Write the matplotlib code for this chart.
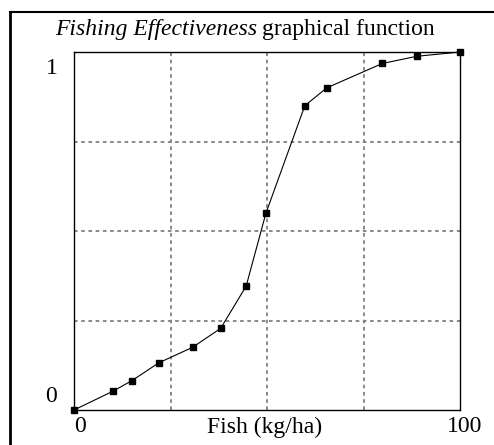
import matplotlib
matplotlib.use("Agg")
import matplotlib.pyplot as plt
from matplotlib.lines import Line2D

fish = [0, 10, 15, 22, 30.7, 38, 44.6, 49.7, 59.8, 65.5, 79.9, 88.8, 100]
effectiveness = [0, 0.052, 0.082, 0.132, 0.175, 0.228, 0.346, 0.549, 0.85, 0.90, 0.968, 0.988, 1.0]
x_grid = [25, 50, 75]
y_grid = [0.25, 0.5, 0.75]

plt.rcParams['font.family'] = ['Liberation Serif', 'DejaVu Serif']

fig = plt.figure(figsize=(4.94, 4.45), dpi=100)
ax = fig.add_axes([74/494, 35/445, (460-74)/494, (410-52)/445])
ax.set_xlim(0, 100)
ax.set_ylim(0, 1)

for gx in x_grid:
    ax.axvline(gx, color='#808080', lw=1.3, dashes=(2, 2), zorder=1)
for gy in y_grid:
    ax.axhline(gy, color='#808080', lw=1.3, dashes=(2, 2), zorder=1)

ax.plot(fish, effectiveness, color='black', lw=0.8, marker='s', markersize=4.5,
        markerfacecolor='black', markeredgecolor='black', zorder=3, clip_on=False)

ax.set_xticks([])
ax.set_yticks([])
for s in ax.spines.values():
    s.set_linewidth(1.0)
    s.set_color('black')

fs = 17
fig.text(52/494, 1 - 68/445, '1', ha='center', va='center', fontsize=fs)
fig.text(51/494, 1 - 397/445, '0', ha='center', va='center', fontsize=fs)
fig.text(80/494, 1 - 427/445, '0', ha='center', va='center', fontsize=fs)
fig.text(465/494, 1 - 427/445, '100', ha='center', va='center', fontsize=fs)
fig.text(265/494, 1 - 427/445, 'Fish (kg/ha)', ha='center', va='center', fontsize=fs)

# title: italic part + regular part
t1 = fig.text(55/494, 1 - 30/445, 'Fishing Effectiveness', ha='left', va='center',
              fontsize=fs, fontstyle='italic')
fig.canvas.draw()
bb = t1.get_window_extent(renderer=fig.canvas.get_renderer())
fig.text((bb.x1 + 5) / 494, 1 - 30/445, 'graphical function', ha='left', va='center',
         fontsize=fs)

# outer frame (top and left edges)
fig.add_artist(Line2D([10/494, 1.0], [1 - 12/445, 1 - 12/445], color='black', lw=1.5,
                      transform=fig.transFigure))
fig.add_artist(Line2D([10/494, 10/494], [1 - 12/445, 0.0], color='black', lw=2.0,
                      transform=fig.transFigure))

fig.savefig('out.png', dpi=100)
